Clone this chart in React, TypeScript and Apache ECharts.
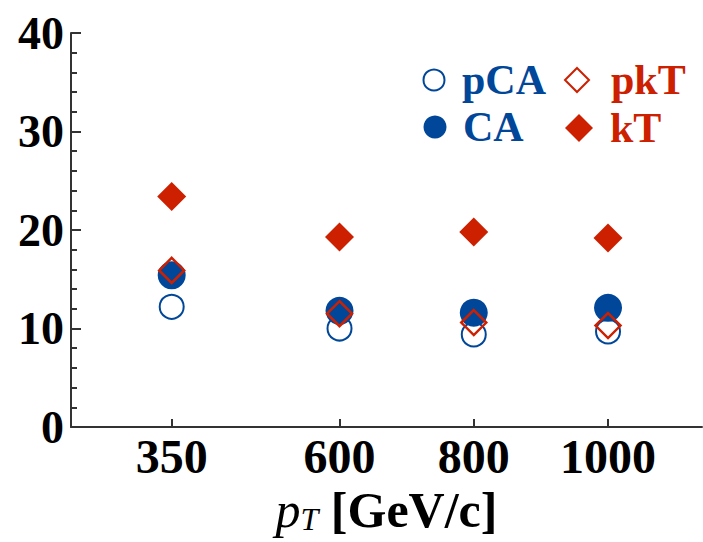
import React, { useEffect, useRef } from "react";
import * as echarts from "echarts";

const ptValues = [350, 600, 800, 1000];
const pCA = [12.2, 10.0, 9.4, 9.7];
const CA = [15.4, 11.8, 11.6, 12.1];
const pkT = [15.9, 11.5, 10.6, 10.3];
const kT = [23.4, 19.3, 19.8, 19.2];
const yTicks = [0, 10, 20, 30, 40];

const BLUE = "#004799";
const RED = "#cc2000";
const CLEAR = "rgba(255,255,255,0)";
const FONT = '"Liberation Serif", "Times New Roman", serif';

const pairs = (ys: number[]) => ptValues.map((x, i) => [x, ys[i]]);

function legendFor(name: string, color: string, size: number, cx: number, cy: number, textLeft: number) {
  const left = cx - size / 2;
  const pad = textLeft - (left + size + 5);
  return {
    data: [name],
    orient: "horizontal",
    itemWidth: size,
    itemHeight: size,
    selectedMode: false,
    padding: 0,
    left,
    top: cy - 20,
    height: 40,
    textStyle: {
      color,
      fontFamily: FONT,
      fontWeight: "bold",
      fontSize: 42,
      lineHeight: 40,
      padding: [0, 0, 0, pad],
    },
  };
}

export default function App() {
  const ref = useRef<HTMLDivElement>(null);
  useEffect(() => {
    if (!ref.current) return;
    const chart = echarts.init(ref.current, undefined, { renderer: "svg" });
    chart.setOption({
      animation: false,
      backgroundColor: "#fff",
      grid: { left: 71, right: 1, top: 33, bottom: 115, outerBoundsMode: "none", containLabel: false },
      legend: [
        legendFor("pCA", BLUE, 21, 433, 79, 461),
        legendFor("CA", BLUE, 23, 435, 126, 463),
        legendFor("pkT", RED, 24, 576, 79, 610),
        legendFor("kT", RED, 28, 579, 127, 610),
      ],
      xAxis: {
        type: "value",
        min: 200,
        max: 1140,
        splitLine: { show: false },
        axisLine: { lineStyle: { color: "#333", width: 2 } },
        axisTick: { inside: true, length: 8, customValues: ptValues, lineStyle: { color: "#333", width: 2 } },
        axisLabel: {
          customValues: ptValues,
          formatter: (v: number) => String(v),
          color: "#000",
          fontFamily: FONT,
          fontWeight: "bold",
          fontSize: 48,
          margin: 5,
        },
        name: "{p|p}{t|T}{b| [GeV/c]}",
        nameLocation: "middle",
        nameGap: 49,
        nameTextStyle: {
          rich: {
            p: { fontFamily: FONT, fontStyle: "italic", fontSize: 50, color: "#000", verticalAlign: "bottom" },
            t: { fontFamily: FONT, fontStyle: "italic", fontSize: 32, color: "#000", verticalAlign: "bottom" },
            b: { fontFamily: FONT, fontWeight: "bold", fontSize: 50, color: "#000", verticalAlign: "bottom" },
          },
        },
      },
      yAxis: {
        type: "value",
        min: 0,
        max: 40,
        interval: 10,
        splitLine: { show: false },
        axisLine: { show: true, lineStyle: { color: "#333", width: 2 } },
        axisTick: { show: true, inside: true, length: 10, lineStyle: { color: "#333", width: 2 } },
        minorTick: { show: true, splitNumber: 5, length: 6, lineStyle: { color: "#333", width: 2 } },
        axisLabel: {
          customValues: yTicks,
          color: "#000",
          fontFamily: FONT,
          fontWeight: "bold",
          fontSize: 46,
          margin: 7,
        },
      },
      series: [
        {
          name: "pCA",
          type: "scatter",
          symbol: "circle",
          symbolSize: 24,
          itemStyle: { color: CLEAR, borderColor: BLUE, borderWidth: 2, opacity: 1 },
          data: pairs(pCA),
          z: 1,
        },
        {
          name: "CA",
          type: "scatter",
          symbol: "circle",
          symbolSize: 28,
          itemStyle: { color: BLUE, opacity: 1 },
          data: pairs(CA),
          z: 2,
        },
        {
          name: "pkT",
          type: "scatter",
          symbol: "diamond",
          symbolSize: 25,
          itemStyle: { color: CLEAR, borderColor: RED, borderWidth: 2.5, opacity: 1 },
          data: pairs(pkT),
          z: 3,
        },
        {
          name: "kT",
          type: "scatter",
          symbol: "diamond",
          symbolSize: 29,
          itemStyle: { color: RED, opacity: 1 },
          data: pairs(kT),
          z: 4,
        },
      ],
    });
    return () => chart.dispose();
  }, []);
  return <div ref={ref} style={{ width: 703, height: 542, position: "absolute", left: 0, top: 0 }} />;
}
